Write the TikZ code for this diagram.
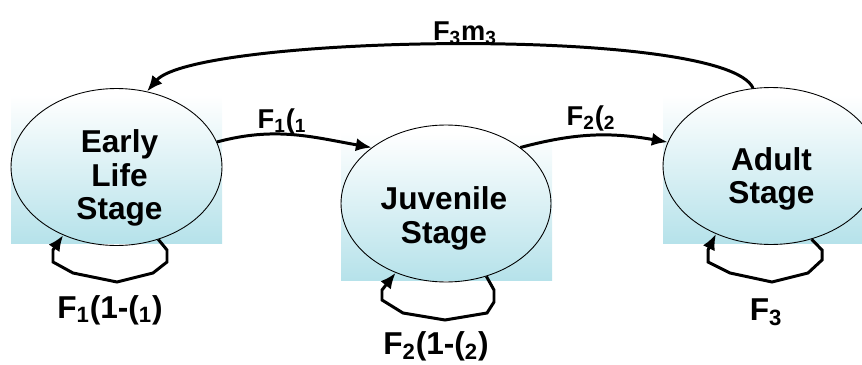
\documentclass[tikz,border=0pt]{standalone}
\usepackage{fontspec}
\setmainfont{Liberation Sans}
\usetikzlibrary{arrows.meta,shapes.geometric}
\definecolor{stageblue}{RGB}{182,226,234}

\begin{document}
\begin{tikzpicture}[x=0.02cm,y=-0.02cm,
    stage/.style={draw,ellipse,line width=0.5pt,inner sep=0pt},
    stagetext/.style={font=\bfseries\fontsize{18}{19}\selectfont,align=center,inner sep=0pt},
    flow/.style={line width=1.7pt,-{Latex[length=9pt,width=7.5pt]}},
    rate/.style={font=\bfseries\fontsize{15.5}{17}\selectfont,inner sep=0pt,anchor=base},
    selfrate/.style={rate,font=\bfseries\fontsize{18}{20}\selectfont}]
    \clip (0,0) rectangle (862,365);
    % Backgrounds
    \foreach \xa/\ya/\xb/\yb in {11/95/222/243,341/132/552/280,663/95/862/243}
      \shade[top color=white,bottom color=stageblue] (\xa,\ya) rectangle (\xb,\yb);
    % Stages
    \node[stage,minimum width=4.22cm,minimum height=3.14cm] (early) at (116.5,167) {};
    \node[stage,minimum width=4.2cm,minimum height=3.14cm] (juvenile) at (446,203.5) {};
    \node[stage,minimum width=4.32cm,minimum height=3.14cm] (adult) at (771,166) {};
    \node[stagetext] (earlytxt) at (119.5,178) {Early\\Life\\Stage};
    \node[stagetext] (juveniletxt) at (444,218.5) {Juvenile\\Stage};
    \node[stagetext] (adulttxt) at (771.5,179) {Adult\\Stage};
    % Transitions
    \draw[flow] (early.14) to[out=15,in=170] (juvenile.143);
    \draw[flow] (juvenile.37) to[out=15,in=170] (adult.167);
    \draw[flow] (adult.103) .. controls (725,25) and (195,35) .. (early.68);
    % Self loops
    \draw[flow] (early.-60) -- (167,250) -- (167,262) -- (153,273) -- (117,282)
      -- (73,273) -- (53,262) -- (53,250) -- (early.-128);
    \draw[flow] (juvenile.-61) -- (494,290) -- (494,302) -- (487,313) -- (445,320)
      -- (403,313) -- (382,300) -- (382,290) -- (juvenile.-126);
    \draw[flow] (adult.-61) -- (822,250) -- (822,260) -- (808,273) -- (772,282)
      -- (730,273) -- (708,262) -- (708,250) -- (adult.-129);
    % Rates
    \node[rate] (f1) at (282,128) {F\textsubscript{1}(\textsubscript{1}};
    \node[rate] (f2) at (591,125) {F\textsubscript{2}(\textsubscript{2}};
    \node[rate] (f3m) at (465,40) {F\textsubscript{3}m\textsubscript{3}};
    \node[selfrate] (s1) at (110,318) {F\textsubscript{1}(1-(\textsubscript{1})};
    \node[selfrate] (s2) at (436,354) {F\textsubscript{2}(1-(\textsubscript{2})};
    \node[selfrate] (s3) at (766,320) {F\textsubscript{3}};
\end{tikzpicture}
\end{document}
